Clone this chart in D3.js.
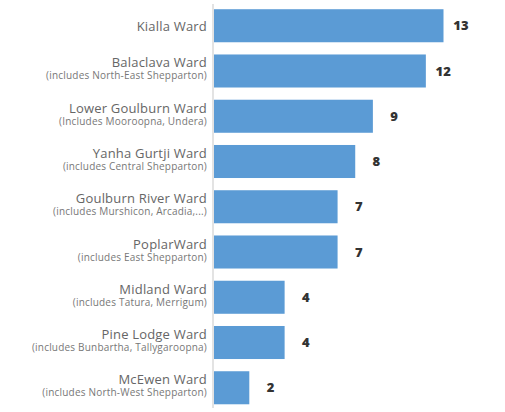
<!DOCTYPE html>
<html>
<head>
<meta charset="utf-8">
<script src="https://cdn.jsdelivr.net/npm/d3@7"></script>
<style>
  body { margin: 0; background: #fff; }
  svg { display: block; }
</style>
</head>
<body>
<script>
// chart data
var wards = ["Kialla Ward", "Balaclava Ward", "Lower Goulburn Ward", "Yanha Gurtji Ward",
             "Goulburn River Ward", "PoplarWard", "Midland Ward", "Pine Lodge Ward", "McEwen Ward"];
var notes = ["", "(includes North-East Shepparton)", "(Includes Mooroopna, Undera)",
             "(includes Central Shepparton)", "(includes Murshicon, Arcadia,...)",
             "(includes East Shepparton)", "(includes Tatura, Merrigum)",
             "(includes Bunbartha, Tallygaroopna)", "(includes North-West Shepparton)"];
var counts = [13, 12, 9, 8, 7, 7, 4, 4, 2];

var width = 505, height = 412;
var left = 214;

var svg = d3.select("body").append("svg")
    .attr("width", width)
    .attr("height", height);

// scales
var x = d3.scaleLinear()
    .domain([0, 13])
    .range([left, left + 229.5]);

var y = d3.scaleBand()
    .domain(wards)
    .range([-3, 416.5])
    .paddingInner(0.27)
    .paddingOuter(0.27);

// vertical axis line
svg.append("line")
    .attr("x1", 213).attr("x2", 213)
    .attr("y1", 4).attr("y2", 408)
    .attr("stroke", "#e3e3e3")
    .attr("stroke-width", 2);

// bars
svg.selectAll(".bar")
    .data(wards)
  .enter().append("rect")
    .attr("class", "bar")
    .attr("x", x(0))
    .attr("y", function(d) { return y(d); })
    .attr("width", function(d, i) { return x(counts[i]) - x(0); })
    .attr("height", y.bandwidth())
    .attr("fill", "#5b9bd5");

// value labels
svg.selectAll(".val")
    .data(wards)
  .enter().append("text")
    .attr("class", "val")
    .attr("x", function(d, i) { return x(counts[i]) + 25; })
    .attr("y", function(d) { return y(d) + y.bandwidth() / 2; })
    .attr("dy", "0.36em")
    .attr("text-anchor", "end")
    .style("font-family", "'Open Sans', sans-serif")
    .style("font-size", "13px")
    .style("font-weight", "800")
    .style("fill", "#333")
    .text(function(d, i) { return counts[i]; });

// category labels
var lab = svg.selectAll(".lab")
    .data(wards)
  .enter().append("g")
    .attr("class", "lab")
    .attr("transform", function(d) { return "translate(207," + (y(d) + y.bandwidth() / 2) + ")"; });

lab.append("text")
    .attr("y", function(d, i) { return notes[i] ? -3.5 : 5; })
    .attr("text-anchor", "end")
    .style("font-family", "'Open Sans', sans-serif")
    .style("font-size", "13px")
    .style("letter-spacing", "0.2px")
    .style("fill", "#666")
    .text(function(d) { return d; });

lab.append("text")
    .attr("y", 8.5)
    .attr("text-anchor", "end")
    .style("font-family", "'Open Sans', sans-serif")
    .style("font-size", "10px")
    .style("letter-spacing", "0.2px")
    .style("fill", "#777")
    .text(function(d, i) { return notes[i]; });
</script>
</body>
</html>
